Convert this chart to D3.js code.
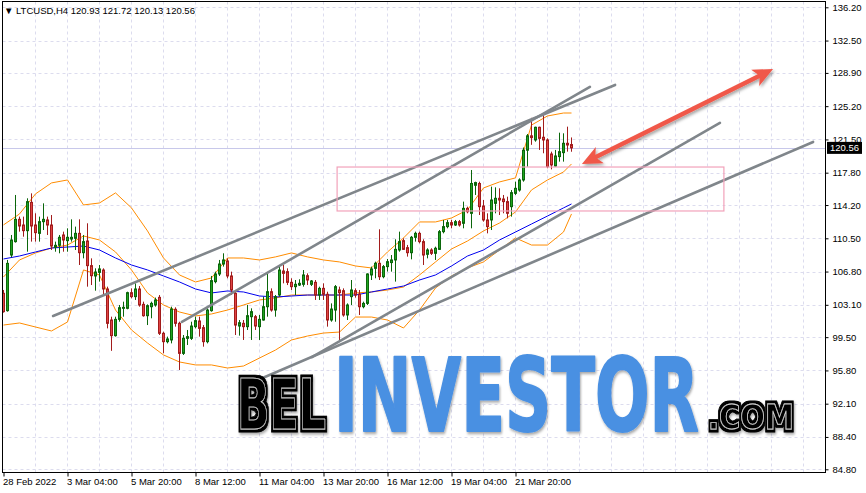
<!DOCTYPE html>
<html lang="en">
<head>
<meta charset="utf-8">
<title>LTCUSD,H4</title>
<script src="https://cdnjs.cloudflare.com/ajax/libs/d3/7.8.5/d3.min.js"></script>
<style>
  body { margin: 0; background: #fff; }
  svg { display: block; font-family: "Liberation Sans", Arial, sans-serif; }
</style>
</head>
<body>
<div id="chart"></div>
<script>
// ---- data ----
var opens = [104.38,102.45,108.64,110.13,112.61,111.98,111.35,114.50,111.98,111.05,112.35,112.54,111.98,109.50,109.72,110.87,110.24,110.42,110.50,111.05,
  108.90,110.20,107.46,106.31,106.71,106.97,104.86,101.41,99.67,101.48,102.71,102.71,104.45,104.01,104.86,103.15,101.89,102.89,103.08,103.93,
  99.93,99.00,99.19,102.60,101.04,97.70,99.37,99.37,100.67,101.30,100.56,99.00,102.45,105.68,106.53,107.64,107.98,106.31,104.38,100.74,
  101.04,100.67,101.78,101.78,100.67,101.41,102.89,104.56,102.52,104.19,106.86,106.79,105.60,105.12,105.30,105.38,106.34,105.38,105.60,104.19,
  104.93,104.27,101.41,102.52,104.75,104.67,101.97,104.01,104.67,104.30,102.89,103.26,106.42,107.16,107.72,106.23,107.35,107.80,108.09,109.20,
  110.24,109.46,108.90,110.61,111.05,110.13,108.72,109.20,108.83,109.27,111.24,111.80,112.24,111.98,112.35,112.17,113.83,113.28,116.40,116.60,
  114.09,112.54,112.54,114.39,114.95,114.87,114.58,114.02,115.50,115.87,116.99,120.30,121.90,121.44,122.85,121.74,121.44,119.88,118.54,119.59,
  120.03,121.07,120.93];
var highs = [104.75,108.09,110.87,115.32,112.91,112.91,114.95,115.50,113.28,112.91,114.39,112.91,113.09,110.13,110.87,111.24,111.61,112.61,111.80,112.61,
  110.87,112.17,108.27,107.16,107.53,107.16,105.12,101.78,101.78,103.08,103.45,104.56,104.93,105.49,105.19,103.45,103.15,103.45,103.90,104.19,
  100.11,99.56,102.89,102.82,101.22,99.74,100.30,101.22,101.78,101.78,100.85,102.71,106.31,106.79,108.09,108.83,108.27,106.79,104.75,101.41,
  101.41,103.08,102.71,101.97,101.97,104.01,106.60,104.93,104.19,107.53,107.53,107.16,106.05,105.86,105.94,106.97,106.60,105.86,105.86,105.12,
  105.49,104.56,103.26,105.30,105.12,104.93,103.26,105.86,104.93,104.75,103.45,106.60,107.35,107.90,111.50,107.53,108.20,108.64,110.39,111.24,
  110.50,109.76,110.76,111.24,111.24,110.39,109.39,109.39,109.57,111.42,112.54,112.54,112.54,112.54,112.54,114.58,114.02,118.10,116.80,116.80,
  114.76,113.28,116.25,116.17,116.06,115.32,115.13,115.87,116.80,117.17,120.60,122.10,123.90,122.92,122.92,124.22,121.62,120.14,120.33,122.25,
  122.18,122.92,121.72];
var lows = [102.23,102.34,108.38,110.02,111.24,110.68,109.01,110.13,110.13,110.13,111.42,110.87,109.20,109.01,108.83,109.01,109.01,110.13,109.20,107.53,
  108.27,105.12,105.30,104.67,105.68,104.30,100.48,97.98,99.56,101.22,101.78,102.60,103.82,103.64,102.89,101.78,100.85,101.60,102.89,99.74,
  97.70,98.81,98.81,100.67,95.85,97.52,98.63,99.19,100.48,99.56,98.44,98.81,102.34,105.49,106.31,107.35,106.05,104.19,99.74,99.67,
  99.19,100.30,99.19,100.30,99.19,101.34,101.78,102.34,101.78,104.01,105.49,105.30,104.75,104.19,105.19,105.12,105.30,105.19,103.64,103.64,
  103.64,100.67,101.22,101.22,99.00,101.78,101.41,103.08,103.90,101.97,102.71,103.08,105.86,106.05,105.86,106.05,106.80,106.79,105.68,109.01,
  109.20,108.46,108.16,110.13,109.94,107.53,108.27,108.64,108.09,109.20,111.05,111.61,111.61,111.87,111.80,111.61,113.28,111.61,115.32,113.09,
  112.35,111.05,111.42,113.28,113.09,113.28,112.72,112.91,115.32,115.69,116.80,118.47,120.90,121.25,120.33,119.96,118.29,118.17,118.47,119.03,
  119.03,120.14,120.13];
var closes = [102.34,107.71,110.31,112.61,111.87,111.35,114.58,111.87,111.13,112.35,112.61,111.98,109.64,109.72,110.61,110.31,110.61,110.61,111.05,108.90,
  110.13,107.46,106.34,106.75,107.09,104.86,101.04,99.67,101.48,102.78,102.82,104.45,104.01,104.86,103.08,101.89,103.00,103.26,103.64,99.93,
  99.00,99.30,102.63,101.04,97.70,99.37,99.56,100.74,101.34,100.48,99.00,102.52,105.79,106.53,107.64,108.09,106.31,104.75,100.85,101.11,
  100.67,101.89,102.34,100.74,101.48,102.89,104.56,102.52,104.01,106.97,106.60,105.60,105.12,105.38,105.49,106.42,105.86,105.75,104.19,104.93,
  104.27,101.41,102.63,105.12,104.45,101.97,103.08,104.75,104.19,102.89,103.26,106.53,107.09,107.72,106.23,107.35,107.90,108.09,109.27,110.13,
  109.27,108.90,110.61,111.05,110.13,108.64,109.20,108.83,109.39,111.24,111.80,112.24,111.98,112.35,111.98,113.83,113.46,116.60,116.70,114.02,
  112.54,111.80,114.76,114.95,114.76,114.58,113.28,115.58,116.06,116.99,120.30,121.90,121.70,122.85,121.62,121.44,118.47,118.66,119.66,120.14,
  121.07,120.88,120.56];

// indicator lines, sampled every 4 bars
var bandBars = [0,4,8,12,16,20,24,28,32,36,40,44,48,52,56,60,64,68,72,76,80,84,88,92,96,100,104,108,112,116,120,124,128,132,136,140,142];
var bbUpper = [111.99,113.21,115.44,116.66,116.99,114.21,114.43,115.55,113.88,111.32,108.31,106.42,105.64,106.09,108.31,108.31,108.09,108.43,108.87,108.43,
  108.09,107.87,107.42,107.20,108.98,110.54,112.32,112.32,112.76,113.66,116.10,116.77,117.22,123.10,124.11,124.44,124.44];
var bbMiddle = [106.20,108.09,108.87,109.42,109.75,110.76,110.31,108.98,106.98,104.42,103.08,102.30,101.86,102.08,102.52,103.08,103.64,103.86,104.19,104.19,
  104.19,104.19,104.42,104.53,104.75,105.08,106.42,107.87,109.31,110.20,111.32,112.20,113.43,115.88,116.99,117.88,118.77];
var bbLower = [100.85,101.08,100.63,100.19,101.19,106.98,106.42,102.52,100.30,98.85,97.52,96.74,96.41,96.41,96.07,96.29,97.18,98.07,99.19,99.63,
  99.96,100.07,101.74,101.74,101.41,100.52,102.52,104.97,106.31,107.20,107.87,109.20,110.54,109.75,109.75,111.20,113.21];
var maBlue = [108.20,108.53,108.98,109.42,109.53,109.64,109.20,108.31,107.53,106.98,106.31,105.64,104.86,104.42,104.64,104.53,104.08,103.97,104.08,104.19,
  104.19,104.19,104.19,104.53,104.86,105.19,105.86,106.42,107.42,108.53,109.20,110.31,111.20,112.09,112.98,113.88,114.32];

// drawn objects: [bar, price] pairs
var trendLines = [
  [[12.4, 101.86], [152.9, 127.56]],
  [[44.6, 101.19], [146.6, 127.34]],
  [[77.1, 97.29], [179.1, 123.33]],
  [[63.6, 94.73], [202.4, 121.22]]
];
var zoneBox = [[83.4, 118.43], [180.1, 113.54]];
var arrowPts = [[144.6, 118.77], [192.4, 129.34]];

var yTicks = [136.20,132.50,128.90,125.20,121.50,117.80,114.20,110.50,106.80,103.10,99.50,95.80,92.10,88.40,84.80];
var xTickBars = [0,16,32,48,64,80,96,112,128];
var xTickLabels = ["28 Feb 2022","3 Mar 04:00","5 Mar 20:00","8 Mar 12:00","11 Mar 04:00","13 Mar 20:00","16 Mar 12:00","19 Mar 04:00","21 Mar 20:00"];
var lastPrice = 120.56;
var title = "LTCUSD,H4  120.93 121.72 120.13 120.56";

// ---- chart ----
var W = 866, H = 493;
var pLeft = 2.5, pRight = 825.5, pTop = 1.5, pBottom = 472.5;

var svg = d3.select("#chart").append("svg").attr("width", W).attr("height", H);

var defs = svg.append("defs");
defs.append("clipPath").attr("id", "plot-clip")
  .append("rect").attr("x", pLeft).attr("y", pTop).attr("width", pRight - pLeft).attr("height", pBottom - pTop);
var shadow = defs.append("filter").attr("id", "shadow").attr("x", "-10%").attr("y", "-10%").attr("width", "130%").attr("height", "140%");
shadow.append("feDropShadow").attr("dx", 1.5).attr("dy", 2).attr("stdDeviation", 1.5)
  .attr("flood-color", "#000").attr("flood-opacity", 0.35);
// black rim around the logo letters, leaves the glyph edge as a light inline
var rim = defs.append("filter").attr("id", "rim").attr("x", "-10%").attr("y", "-20%").attr("width", "125%").attr("height", "150%");
rim.append("feMorphology").attr("in", "SourceAlpha").attr("operator", "dilate").attr("radius", 2.5).attr("result", "fat");
rim.append("feFlood").attr("flood-color", "#000");
rim.append("feComposite").attr("in2", "fat").attr("operator", "in").attr("result", "blk");
rim.append("feGaussianBlur").attr("in", "fat").attr("stdDeviation", 1.5).attr("result", "blur");
rim.append("feOffset").attr("in", "blur").attr("dx", 1).attr("dy", 2).attr("result", "sh");
rim.append("feComponentTransfer").attr("in", "sh").attr("result", "sh2")
  .append("feFuncA").attr("type", "linear").attr("slope", 0.35);
var rm = rim.append("feMerge");
rm.append("feMergeNode").attr("in", "sh2");
rm.append("feMergeNode").attr("in", "blk");
rm.append("feMergeNode").attr("in", "SourceGraphic");

var x = d3.scaleLinear().domain([0, 142]).range([3.5, 571.5]);
var y = d3.scaleLinear().domain([84.8, 136.2]).range([469.3, 7.3]);

var plot = svg.append("g").attr("clip-path", "url(#plot-clip)");

// grid
var gridColor = "#dcdcee";
plot.append("g").selectAll("line").data(d3.range(8, 208, 8)).join("line")
  .attr("x1", function(d) { return x(d); }).attr("x2", function(d) { return x(d); })
  .attr("y1", pTop).attr("y2", pBottom)
  .attr("stroke", gridColor).attr("stroke-dasharray", "3,3");
plot.append("g").selectAll("line").data(yTicks).join("line")
  .attr("x1", pLeft).attr("x2", pRight)
  .attr("y1", function(d) { return Math.round(y(d)) + 0.5; }).attr("y2", function(d) { return Math.round(y(d)) + 0.5; })
  .attr("stroke", gridColor).attr("stroke-dasharray", "3,3");

// last price line
plot.append("line")
  .attr("x1", pLeft).attr("x2", pRight)
  .attr("y1", Math.round(y(lastPrice)) + 0.5).attr("y2", Math.round(y(lastPrice)) + 0.5)
  .attr("stroke", "#c8c8ea");

// bollinger + ma
var line = d3.line().x(function(d) { return x(d[0]); }).y(function(d) { return y(d[1]); });
function series(vals) { return bandBars.map(function(b, i) { return [b, vals[i]]; }); }
[bbUpper, bbMiddle, bbLower].forEach(function(vals) {
  plot.append("path").datum(series(vals)).attr("d", line)
    .attr("fill", "none").attr("stroke", "#ff8c00").attr("stroke-width", 1);
});
plot.append("path").datum(series(maBlue)).attr("d", line)
  .attr("fill", "none").attr("stroke", "#0000ee").attr("stroke-width", 1);

// candles
var candles = opens.map(function(o, i) { return {i: i, o: o, h: highs[i], l: lows[i], c: closes[i]}; });
var bullFill = "#1fa51f", bullEdge = "#0b660b", bearFill = "#e04444", bearEdge = "#a21c1c";
var cg = plot.append("g");
cg.selectAll("line").data(candles).join("line")
  .attr("x1", function(d) { return x(d.i); }).attr("x2", function(d) { return x(d.i); })
  .attr("y1", function(d) { return y(d.h); }).attr("y2", function(d) { return y(d.l); })
  .attr("stroke", function(d) { return d.c >= d.o ? bullEdge : bearEdge; });
cg.selectAll("rect").data(candles).join("rect")
  .attr("x", function(d) { return x(d.i) - 1; }).attr("width", 2)
  .attr("y", function(d) { return y(Math.max(d.o, d.c)); })
  .attr("height", function(d) { return Math.max(0.6, Math.abs(y(d.o) - y(d.c))); })
  .attr("fill", function(d) { return d.c >= d.o ? bullFill : bearFill; })
  .attr("stroke", function(d) { return d.c >= d.o ? bullEdge : bearEdge; });

// trend lines
plot.append("g").selectAll("path").data(trendLines).join("path")
  .attr("d", line)
  .attr("stroke", "#80868b").attr("stroke-width", 2.6).attr("stroke-linecap", "round").attr("fill", "none");

// zone rectangle
plot.append("rect")
  .attr("x", x(zoneBox[0][0])).attr("y", y(zoneBox[0][1]))
  .attr("width", x(zoneBox[1][0]) - x(zoneBox[0][0]))
  .attr("height", y(zoneBox[1][1]) - y(zoneBox[0][1]))
  .attr("fill", "none").attr("stroke", "#f2a2ba").attr("stroke-width", 1.2);

// red double arrow
var ax1 = x(arrowPts[0][0]), ay1 = y(arrowPts[0][1]), ax2 = x(arrowPts[1][0]), ay2 = y(arrowPts[1][1]);
var ang = Math.atan2(ay2 - ay1, ax2 - ax1);
function head(tx, ty, a) {
  var len = 20, wid = 9;
  var bx = tx - Math.cos(a) * len, by = ty - Math.sin(a) * len;
  var px = -Math.sin(a) * wid, py = Math.cos(a) * wid;
  return "M" + tx + "," + ty + "L" + (bx + px) + "," + (by + py) + "L" + (bx + Math.cos(a) * 5) + "," + (by + Math.sin(a) * 5) +
    "L" + (bx - px) + "," + (by - py) + "Z";
}
var arrow = plot.append("g").attr("filter", "url(#shadow)");
arrow.append("line")
  .attr("x1", ax1 + Math.cos(ang) * 10).attr("y1", ay1 + Math.sin(ang) * 10)
  .attr("x2", ax2 - Math.cos(ang) * 10).attr("y2", ay2 - Math.sin(ang) * 10)
  .attr("stroke", "#f0584a").attr("stroke-width", 4.5);
arrow.append("path").attr("d", head(ax2, ay2, ang)).attr("fill", "#f0584a");
arrow.append("path").attr("d", head(ax1, ay1, ang + Math.PI)).attr("fill", "#f0584a");

// watermark: each word squeezed into its box with a scale transform
var wm = svg.append("g");
function logoWord(txt, x0, x1, base, capH) {
  var fs = capH / 0.73;
  var t = wm.append("text").text(txt)
    .attr("font-family", "'DejaVu Sans', sans-serif").attr("font-weight", "bold")
    .attr("font-size", fs).attr("x", 0).attr("y", 0);
  var w = t.node().getComputedTextLength();
  t.attr("transform", "translate(" + x0 + "," + base + ") scale(" + ((x1 - x0) / w) + ",1)");
  return t;
}
logoWord("BEL", 237, 326, 429, 51)
  .attr("fill", "#000").attr("stroke", "#d0d0d0").attr("stroke-width", 0.9).attr("filter", "url(#rim)");
logoWord("INVESTOR", 334, 699, 431, 74)
  .attr("fill", "#4a90e2").attr("stroke", "#4a90e2").attr("stroke-width", 2).attr("stroke-linejoin", "round")
  .attr("filter", "url(#shadow)");
logoWord(".COM", 708, 794, 429, 25)
  .attr("fill", "#000").attr("stroke", "#d0d0d0").attr("stroke-width", 0.9).attr("filter", "url(#rim)");

// frame
svg.append("rect").attr("x", pLeft).attr("y", pTop).attr("width", pRight - pLeft).attr("height", pBottom - pTop)
  .attr("fill", "none").attr("stroke", "#000");

// right axis
var yAxis = svg.append("g").attr("transform", "translate(" + pRight + ",0)")
  .call(d3.axisRight(y).tickValues(yTicks).tickFormat(d3.format(".2f")).tickSize(3).tickPadding(4));
yAxis.select(".domain").remove();
yAxis.selectAll("text").attr("font-size", "9.5px").attr("font-family", "'Liberation Sans', Arial, sans-serif");

// bottom axis
var xAxis = svg.append("g").attr("transform", "translate(0," + pBottom + ")")
  .call(d3.axisBottom(x).tickValues(xTickBars).tickFormat(function(d, i) { return xTickLabels[i]; }).tickSize(4));
xAxis.select(".domain").remove();
xAxis.selectAll("text").attr("text-anchor", "start").attr("dx", "-1").attr("y", 6)
  .attr("font-size", "9.5px").attr("font-family", "'Liberation Sans', Arial, sans-serif");

// last price tag
var tagY = y(lastPrice);
svg.append("rect").attr("x", 827).attr("y", tagY - 6).attr("width", 35).attr("height", 12).attr("fill", "#000");
svg.append("text").attr("x", 830).attr("y", tagY + 3.5).attr("fill", "#fff").attr("font-size", "9.5px")
  .text(d3.format(".2f")(lastPrice));

// title
svg.append("text").attr("x", 4).attr("y", 14).attr("font-size", "9.5px").attr("fill", "#000")
  .text("\u25BC " + title);
</script>
</body>
</html>
